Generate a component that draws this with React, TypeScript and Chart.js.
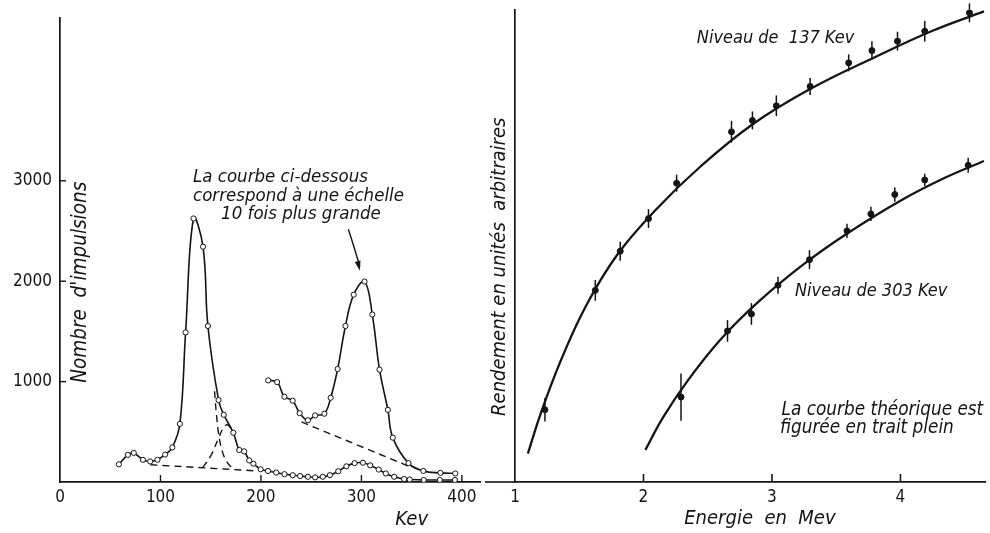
import React, { useEffect, useRef } from "react";
import { Chart, registerables } from "chart.js";

Chart.register(...registerables);

const SANS = "'DejaVu Sans Condensed', 'Liberation Sans Narrow', 'DejaVu Sans', sans-serif";
const INK = "#141414";

// ---------- Left panel: pulse-height spectrum ----------
const kevTicks = [0, 100, 200, 300, 400];
const countTicks = [1000, 2000, 3000];

const mainKev = [58.6, 67.5, 73.4, 82.5, 89.8, 97, 104.6, 111.8, 119.3, 125, 132.9, 142.3, 147.2, 157.8, 163, 172.5, 178.4, 183.3, 188.3, 192.5, 199.7, 207, 215.2, 223.4, 231.6, 239, 246.7, 253.9, 261.5, 268.6, 276.9, 285, 293.2, 301.5, 308.7, 317.2, 324.3, 332.6, 342.5, 348, 362, 378, 393];
const mainCounts = [176, 270, 290, 221, 205, 221, 273, 345, 579, 1490, 2625, 2344, 1554, 816, 670, 491, 319, 305, 215, 182, 127, 110, 94, 78, 68, 59, 52, 46, 52, 68, 107, 156, 188, 192, 166, 124, 85, 52, 29, 25, 20, 20, 20];

const x10Kev = [207.2, 216.1, 223.3, 231.6, 238.5, 246.7, 253.9, 263.1, 269.4, 276.3, 284.1, 292.3, 303.1, 310.8, 318, 326.3, 331.2, 346.8, 361.6, 378.6, 393.4];
const x10Counts = [1012, 995, 849, 810, 686, 615, 663, 680, 839, 1125, 1554, 1866, 1997, 1668, 1119, 719, 442, 188, 110, 91, 85];

const baseKev = [90, 197];
const baseCounts = [172, 110];
const tailKev = [153.8, 156, 158.7, 162, 166, 171.8];
const tailCounts = [904, 640, 426, 290, 200, 134];
const compKev = [142, 150, 157.5, 163, 167, 172.5];
const compCounts = [143, 260, 430, 545, 568, 491];
const x10BaseKev = [240.3, 347.4];
const x10BaseCounts = [598, 156];

// ---------- Right panel: yield vs energy ----------
const mevTicks = [1, 2, 3, 4];

const n137Mev = [1.233, 1.625, 1.819, 2.039, 2.258, 2.685, 2.848, 3.034, 3.297, 3.597, 3.778, 3.977, 4.189, 4.537];
const n137Val = [15.3, 40.6, 48.9, 55.8, 63.3, 74.2, 76.6, 79.7, 83.8, 88.8, 91.4, 93.4, 95.5, 99.4];
const n137Err = [2.5, 2.2, 2.0, 2.0, 1.8, 2.3, 1.9, 2.2, 1.8, 1.8, 2.0, 2.0, 2.2, 2.0];

const n303Mev = [2.292, 2.654, 2.84, 3.047, 3.292, 3.584, 3.77, 3.956, 4.189, 4.527];
const n303Val = [18.0, 32.0, 35.6, 41.7, 47.1, 53.2, 56.8, 60.9, 64.0, 67.1];
const n303Err = [5.0, 2.3, 2.3, 1.8, 2.0, 1.5, 1.5, 1.5, 1.3, 1.6];

const th137Mev = [1.1, 1.2, 1.35, 1.55, 1.8, 2.1, 2.45, 2.85, 3.3, 3.8, 4.25, 4.65];
const th137Val = [6.0, 14.5, 25.3, 37.2, 48.3, 57.8, 67.0, 75.8, 83.3, 90.0, 95.6, 99.7];

const th303Mev = [2.015, 2.15, 2.35, 2.6, 2.9, 3.25, 3.6, 4.0, 4.35, 4.65];
const th303Val = [6.8, 13.6, 21.7, 30.2, 38.3, 46.2, 52.9, 59.6, 64.5, 68.0];

function pts(xs: number[], ys: number[]) {
  return xs.map((x, i) => ({ x, y: ys[i] }));
}

function line(ctx: CanvasRenderingContext2D, x1: number, y1: number, x2: number, y2: number) {
  ctx.beginPath();
  ctx.moveTo(x1, y1);
  ctx.lineTo(x2, y2);
  ctx.stroke();
}

const leftDecor = {
  id: "leftDecor",
  afterDraw(chart: any) {
    const { ctx } = chart;
    const x = chart.scales.x;
    const y = chart.scales.y;
    const X = (v: number) => x.getPixelForValue(v);
    const Y = (v: number) => y.getPixelForValue(v);
    ctx.save();
    ctx.strokeStyle = INK;
    ctx.fillStyle = INK;
    ctx.lineWidth = 1.4;
    countTicks.forEach((v) => line(ctx, x.left, Y(v), x.left + 6, Y(v)));
    kevTicks.slice(1).forEach((v) => line(ctx, X(v), y.bottom, X(v), y.bottom - 7));

    ctx.font = `italic 18.5px ${SANS}`;
    ctx.textAlign = "left";
    ctx.textBaseline = "middle";
    ctx.fillText("La courbe ci-dessous", X(132.4), Y(3034));
    ctx.fillText("correspond à une échelle", X(132.4), Y(2849));
    ctx.fillText("10 fois plus grande", X(160.3), Y(2663));

    // arrow
    const sx = X(287), sy = Y(2517), cx = X(293), cy = Y(2332), tx = X(298.4), ty = Y(2107);
    ctx.lineWidth = 1.4;
    ctx.beginPath();
    ctx.moveTo(sx, sy);
    ctx.quadraticCurveTo(cx, cy, tx, ty - 4);
    ctx.stroke();
    const ang = Math.atan2(ty - cy, tx - cx);
    ctx.beginPath();
    ctx.moveTo(tx, ty);
    ctx.lineTo(tx - 10 * Math.cos(ang - 0.3), ty - 10 * Math.sin(ang - 0.3));
    ctx.lineTo(tx - 10 * Math.cos(ang + 0.3), ty - 10 * Math.sin(ang + 0.3));
    ctx.closePath();
    ctx.fill();

    ctx.font = `italic 20px ${SANS}`;
    ctx.textAlign = "center";
    ctx.fillText("Kev", X(350), y.bottom + 38);

    ctx.font = `italic 20.5px ${SANS}`;
    ctx.save();
    ctx.translate(x.left + 21, Y(1990));
    ctx.rotate(-Math.PI / 2);
    ctx.fillText("Nombre  d'impulsions", 0, 0);
    ctx.restore();
    ctx.restore();
  },
};

const rightDecor = {
  id: "rightDecor",
  afterDatasetsDraw(chart: any) {
    const { ctx } = chart;
    const x = chart.scales.x;
    const y = chart.scales.y;
    const X = (v: number) => x.getPixelForValue(v);
    const Y = (v: number) => y.getPixelForValue(v);
    ctx.save();
    ctx.strokeStyle = INK;
    ctx.fillStyle = INK;
    ctx.lineWidth = 1.5;
    n137Mev.forEach((e, i) => line(ctx, X(e), Y(n137Val[i] - n137Err[i]), X(e), Y(n137Val[i] + n137Err[i])));
    n303Mev.forEach((e, i) => line(ctx, X(e), Y(n303Val[i] - n303Err[i]), X(e), Y(n303Val[i] + n303Err[i])));
    ctx.restore();
  },
  afterDraw(chart: any) {
    const { ctx } = chart;
    const x = chart.scales.x;
    const y = chart.scales.y;
    const X = (v: number) => x.getPixelForValue(v);
    const Y = (v: number) => y.getPixelForValue(v);
    ctx.save();
    ctx.strokeStyle = INK;
    ctx.fillStyle = INK;
    ctx.lineWidth = 1.6;
    line(ctx, 0, y.bottom, x.left, y.bottom);
    mevTicks.slice(1).forEach((v) => line(ctx, X(v), y.bottom, X(v), y.bottom - 8));

    ctx.textAlign = "left";
    ctx.textBaseline = "middle";
    ctx.font = `italic 18px ${SANS}`;
    ctx.fillText("Niveau de  137 Kev", X(2.415), Y(93.9));
    ctx.fillText("Niveau de 303 Kev", X(3.179), Y(40.3));
    ctx.font = `italic 18.8px ${SANS}`;
    ctx.fillText("La courbe théorique est", X(3.075), Y(15.3));
    ctx.fillText("figurée en trait plein", X(3.063), Y(11.4));

    ctx.font = `italic 20px ${SANS}`;
    ctx.textAlign = "center";
    ctx.fillText("Energie  en  Mev", X(2.906), y.bottom + 37);

    ctx.save();
    ctx.translate(x.left - 15, Y(45.6));
    ctx.rotate(-Math.PI / 2);
    ctx.fillText("Rendement en unités  arbitraires", 0, 0);
    ctx.restore();
    ctx.restore();
  },
};

const tickFont = { family: SANS, size: 17 };
const plainLabel = (v: any) => String(v);

function curve(data: any[]) {
  return {
    data,
    showLine: true,
    borderColor: INK,
    borderWidth: 1.6,
    tension: 0.4,
    pointRadius: 2.6,
    pointBackgroundColor: "#ffffff",
    pointBorderColor: INK,
    pointBorderWidth: 1,
  };
}

function dashed(data: any[], tension = 0) {
  return {
    data,
    showLine: true,
    borderColor: INK,
    borderWidth: 1.4,
    borderDash: [7, 5],
    tension,
    pointRadius: 0,
  };
}

function theory(data: any[]) {
  return {
    data,
    showLine: true,
    borderColor: INK,
    borderWidth: 2.3,
    tension: 0.4,
    pointRadius: 0,
  };
}

export default function App() {
  const leftRef = useRef<HTMLCanvasElement>(null);
  const rightRef = useRef<HTMLCanvasElement>(null);

  useEffect(() => {
    const left = new Chart(leftRef.current as HTMLCanvasElement, {
      type: "scatter",
      data: {
        datasets: [
          dashed(pts(baseKev, baseCounts)),
          dashed(pts(tailKev, tailCounts), 0.4),
          dashed(pts(compKev, compCounts), 0.4),
          dashed(pts(x10BaseKev, x10BaseCounts)),
          curve(pts(mainKev, mainCounts)),
          curve(pts(x10Kev, x10Counts)),
        ] as any,
      },
      options: {
        animation: false,
        responsive: false,
        events: [],
        layout: { padding: { top: 8, right: 0, left: 0, bottom: 0 } },
        plugins: { legend: { display: false }, tooltip: { enabled: false } },
        scales: {
          x: {
            type: "linear",
            min: 0,
            max: 418,
            afterBuildTicks: (s: any) => {
              s.ticks = kevTicks.map((v) => ({ value: v }));
            },
            afterFit: (s: any) => {
              s.height = 51;
            },
            grid: { display: false, drawTicks: false },
            border: { display: true, color: INK, width: 1.7 },
            ticks: { color: INK, font: tickFont, padding: 5, maxRotation: 0, callback: plainLabel },
          },
          y: {
            type: "linear",
            min: 0,
            max: 4620,
            afterBuildTicks: (s: any) => {
              s.ticks = countTicks.map((v) => ({ value: v }));
            },
            afterFit: (s: any) => {
              s.width = 60;
            },
            grid: { display: false, drawTicks: false },
            border: { display: true, color: INK, width: 1.7 },
            ticks: { color: INK, font: tickFont, padding: 8, callback: plainLabel },
          },
        },
      },
      plugins: [leftDecor],
    });

    const right = new Chart(rightRef.current as HTMLCanvasElement, {
      type: "scatter",
      data: {
        datasets: [
          theory(pts(th137Mev, th137Val)),
          theory(pts(th303Mev, th303Val)),
          {
            data: pts(n137Mev, n137Val),
            showLine: false,
            pointRadius: 3,
            pointBackgroundColor: INK,
            pointBorderColor: INK,
          },
          {
            data: pts(n303Mev, n303Val),
            showLine: false,
            pointRadius: 3,
            pointBackgroundColor: INK,
            pointBorderColor: INK,
          },
        ] as any,
      },
      options: {
        animation: false,
        responsive: false,
        events: [],
        layout: { padding: { top: 10, right: 2, left: 0, bottom: 0 } },
        plugins: { legend: { display: false }, tooltip: { enabled: false } },
        scales: {
          x: {
            type: "linear",
            min: 1,
            max: 4.658,
            afterBuildTicks: (s: any) => {
              s.ticks = mevTicks.map((v) => ({ value: v }));
            },
            afterFit: (s: any) => {
              s.height = 51;
            },
            grid: { display: false, drawTicks: false },
            border: { display: true, color: INK, width: 1.7 },
            ticks: { color: INK, font: tickFont, padding: 5, maxRotation: 0, callback: plainLabel },
          },
          y: {
            type: "linear",
            min: 0,
            max: 100,
            afterFit: (s: any) => {
              s.width = 30;
            },
            grid: { display: false, drawTicks: false },
            border: { display: true, color: INK, width: 1.7 },
            ticks: { display: false },
          },
        },
      },
      plugins: [rightDecor],
    });

    return () => {
      left.destroy();
      right.destroy();
    };
  }, []);

  return (
    <div style={{ position: "fixed", left: 0, top: 0, width: 990, height: 533, background: "#ffffff" }}>
      <canvas ref={leftRef} width={485} height={533} style={{ position: "absolute", left: 0, top: 0, width: 485, height: 533 }} />
      <canvas ref={rightRef} width={505} height={533} style={{ position: "absolute", left: 485, top: 0, width: 505, height: 533 }} />
    </div>
  );
}
